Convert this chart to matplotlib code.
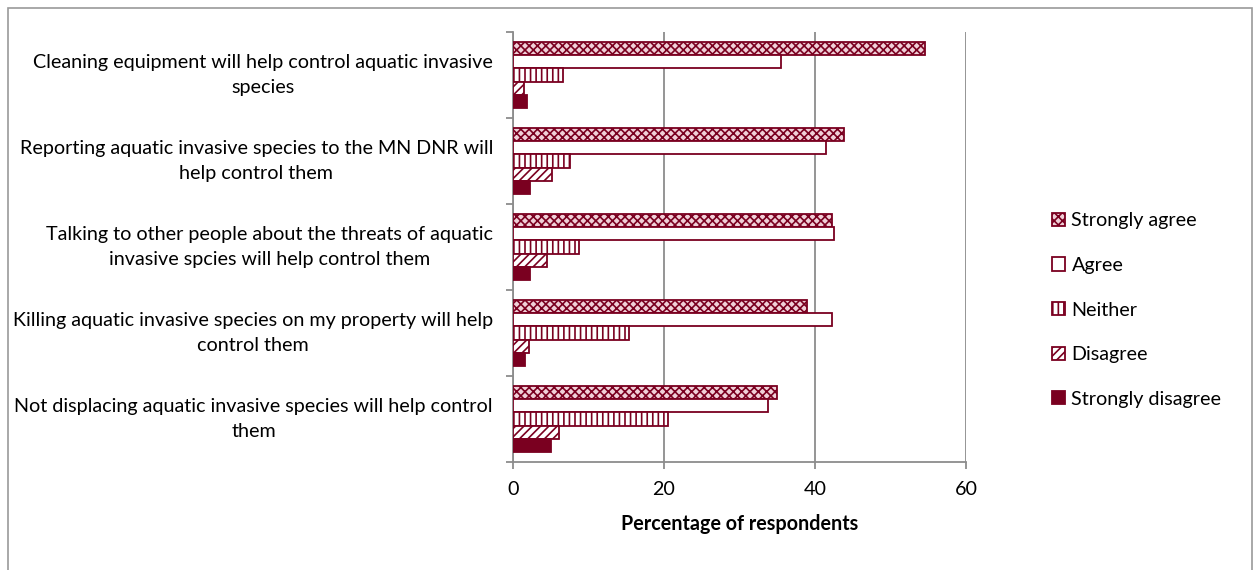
import matplotlib
matplotlib.use("Agg")
import matplotlib.pyplot as plt
import matplotlib.transforms as mtransforms
import numpy as np
from matplotlib.patches import Rectangle, Patch

plt.rcParams['font.family'] = ['Lato', 'DejaVu Sans']
plt.rcParams['hatch.linewidth'] = 1.2

categories = [
    "Cleaning equipment will help control aquatic invasive\nspecies",
    "Reporting aquatic invasive species to the MN DNR will\nhelp control them",
    "Talking to other people about the threats of aquatic\ninvasive spcies will help control them",
    "Killing aquatic invasive species on my property will help\ncontrol them",
    "Not displacing aquatic invasive species will help control\nthem",
]
series_names = ["Strongly agree", "Agree", "Neither", "Disagree", "Strongly disagree"]
strongly_agree = [54.6, 43.8, 42.3, 38.9, 35.0]
agree = [35.5, 41.5, 42.5, 42.3, 33.8]
neither = [6.6, 7.5, 8.7, 15.3, 20.5]
disagree = [1.5, 5.1, 4.5, 2.1, 6.1]
strongly_disagree = [1.9, 2.2, 2.2, 1.6, 5.0]
x_ticks = [0, 20, 40, 60]

dark = '#7a0020'
styles = [
    dict(facecolor='#f0d0d8', hatch='xxxx', edgecolor=dark),
    dict(facecolor='white', hatch=None, edgecolor=dark),
    dict(facecolor='white', hatch='|||', edgecolor=dark),
    dict(facecolor='white', hatch='////', edgecolor=dark),
    dict(facecolor=dark, hatch=None, edgecolor=dark),
]

fs = 14.2

fig = plt.figure(figsize=(12.59, 5.70), dpi=100)
fig.patches.append(Rectangle((8/1259, -0.1), (1252-8)/1259, 1.1 - 8/570,
                             transform=fig.transFigure, fill=False,
                             edgecolor='#9a9a9a', linewidth=1.2))
ax = fig.add_axes([513/1259, (570-462)/570, (966-513)/1259, (462-32)/570])

data = [strongly_agree, agree, neither, disagree, strongly_disagree]
y = np.arange(len(categories))
h = 0.152
for i, (vals, st) in enumerate(zip(data, styles)):
    pos = y + (i - 2) * h
    ax.barh(pos, vals, height=h, facecolor=st['facecolor'], hatch=st['hatch'],
            edgecolor=st['edgecolor'], linewidth=1.3, zorder=3)

ax.set_xlim(0, 60)
ax.set_ylim(4.5, -0.5)
ax.set_xticks(x_ticks)
ax.set_xticklabels([str(t) for t in x_ticks], fontsize=fs)
ax.xaxis.grid(True, color='#8c8c8c', linewidth=1.3, zorder=0)
ax.set_axisbelow(True)

ax.set_yticks(np.arange(-0.5, 5, 1))
ax.set_yticklabels([])
ax.tick_params(axis='y', which='major', length=5, color='#8c8c8c', width=1.3)
ax.tick_params(axis='x', length=5, color='#8c8c8c', width=1.3, pad=9)

label_tr = mtransforms.blended_transform_factory(ax.transAxes, ax.transData) + \
    mtransforms.ScaledTranslation(-20/100, 0, fig.dpi_scale_trans)
for yi, cat in zip(y, categories):
    ax.text(0, yi, cat, transform=label_tr, ha='right', va='center',
            multialignment='center', linespacing=1.6, fontsize=fs, color='black')

for s in ['top', 'right']:
    ax.spines[s].set_visible(False)
for s in ['left', 'bottom']:
    ax.spines[s].set_color('#8c8c8c')
    ax.spines[s].set_linewidth(1.3)

ax.set_xlabel("Percentage of respondents", fontsize=fs, fontweight='bold', labelpad=11)

handles = [Patch(facecolor=st['facecolor'], hatch=st['hatch'], edgecolor=dark, linewidth=1.3)
           for st in styles]
fig.legend(handles, series_names, loc='center left', bbox_to_anchor=(1034/1259, 1 - 310/570),
           frameon=False, fontsize=fs, handlelength=0.65, handleheight=0.65,
           handletextpad=0.35, labelspacing=1.4)

fig.savefig("out.png", dpi=100)
